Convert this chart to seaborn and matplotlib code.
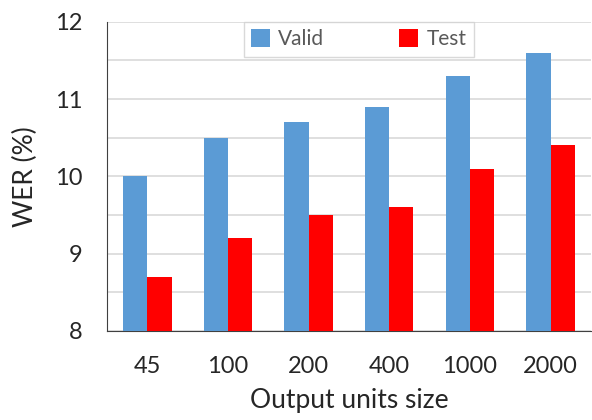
import matplotlib.pyplot as plt
import numpy as np
import pandas as pd
import seaborn as sns
from matplotlib.ticker import MultipleLocator

sizes = ['45', '100', '200', '400', '1000', '2000']
valid = [10.0, 10.5, 10.7, 10.9, 11.3, 11.6]
test = [8.7, 9.2, 9.5, 9.6, 10.1, 10.4]

df = pd.DataFrame({
    'size': sizes * 2,
    'wer': valid + test,
    'set': ['Valid'] * len(sizes) + ['Test'] * len(sizes),
})

sns.set_style('white')
plt.rcParams['font.family'] = ['Lato', 'DejaVu Sans']

fig = plt.figure(figsize=(5.92, 4.2), dpi=100)
ax = fig.add_axes([0.181, 0.212, 0.817, 0.736])

sns.barplot(data=df, x='size', y='wer', hue='set', palette=['#5B9BD5', '#FF0000'],
            width=0.6, saturation=1, linewidth=0, ax=ax, zorder=3)

ax.set_ylim(8, 12)
ax.yaxis.set_major_locator(MultipleLocator(1))
ax.yaxis.set_minor_locator(MultipleLocator(0.5))
ax.grid(axis='y', which='both', color='#d9d9d9', lw=1.2, zorder=0)
ax.set_axisbelow(True)
ax.tick_params(axis='y', which='major', direction='inout', length=16, width=1, color='#404040',
               labelsize=17, pad=10)
ax.tick_params(axis='y', which='minor', length=0)
ax.tick_params(axis='x', length=0, labelsize=17, pad=18)

for s in ['top', 'right']:
    ax.spines[s].set_visible(False)
ax.spines['left'].set_color('#404040')
ax.spines['bottom'].set_color('#404040')

ax.set_xlabel('Output units size', fontsize=19, labelpad=8)
ax.set_ylabel('WER (%)', fontsize=19, labelpad=12)

leg = ax.legend(loc='upper center', bbox_to_anchor=(0.52, 0.993), ncol=2, fontsize=15,
                frameon=True, fancybox=False, edgecolor='#d0d0d0', handlelength=0.9,
                handleheight=0.9, handletextpad=0.4, columnspacing=3.6, borderpad=0.25,
                borderaxespad=0)
leg.get_frame().set_boxstyle('square', pad=0.1)
for t in leg.get_texts():
    t.set_color('#595959')

fig.savefig('out.png', dpi=100)
